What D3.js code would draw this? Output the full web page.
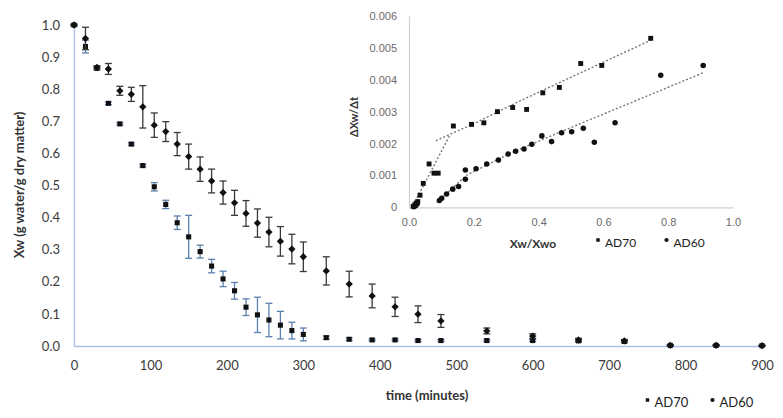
<!DOCTYPE html>
<html><head><meta charset="utf-8">
<script src="https://cdn.jsdelivr.net/npm/d3@7"></script>
<style>
html,body{margin:0;padding:0;background:#fff;}
svg{display:block;font-family:Lato,"Open Sans",sans-serif;}
</style></head>
<body>
<svg id="c" width="783" height="418"></svg>
<script>
// ---------- main chart data ----------
const times = [0,15,30,45,60,75,90,105,120,135,150,165,180,195,210,225,240,255,270,285,300,330,360,390,420,450,480,540,600,660,720,780,840,900];
const ad70 = [1.0,0.933,0.865,0.756,0.692,0.629,0.562,0.496,0.441,0.384,0.340,0.294,0.249,0.209,0.172,0.121,0.097,0.081,0.065,0.048,0.036,0.026,0.021,0.019,0.019,0.017,0.017,0.017,0.017,0.016,0.014,0.002,0.002,0.001];
const ad70Err = [0.002,0.02,0.005,0.004,0.004,0.004,0.004,0.013,0.013,0.021,0.067,0.02,0.021,0.024,0.026,0.026,0.055,0.052,0.043,0.026,0.02,0.005,0.004,0.003,0.003,0.003,0.003,0.003,0.003,0.004,0.004,0.002,0.002,0.001];
const ad60 = [1.0,0.958,0.868,0.863,0.795,0.784,0.745,0.688,0.668,0.629,0.590,0.551,0.514,0.478,0.446,0.413,0.383,0.355,0.326,0.302,0.278,0.234,0.193,0.156,0.122,0.099,0.078,0.047,0.031,0.019,0.016,0.002,0.002,0.001];
const ad60Err = [0.003,0.035,0.005,0.017,0.014,0.022,0.066,0.038,0.031,0.036,0.039,0.038,0.037,0.036,0.039,0.040,0.044,0.046,0.046,0.046,0.046,0.044,0.040,0.037,0.030,0.026,0.020,0.009,0.007,0.005,0.004,0.002,0.002,0.001];
const mainXTicks = [0,100,200,300,400,500,600,700,800,900];
const mainYTicks = [0,0.1,0.2,0.3,0.4,0.5,0.6,0.7,0.8,0.9,1.0];
const seriesNames = ["AD70","AD60"];

// ---------- inset data (Xw/Xwo vs dXw/dt) ----------
const insetAd70X = [0.013,0.018,0.022,0.027,0.034,0.044,0.062,0.077,0.090,0.137,0.193,0.231,0.273,0.320,0.363,0.413,0.464,0.530,0.595,0.746];
const insetAd70Y = [0.00003,0.00008,0.00013,0.00018,0.00038,0.00075,0.00136,0.00107,0.00107,0.00255,0.00260,0.00265,0.00300,0.00313,0.00307,0.00359,0.00376,0.00451,0.00445,0.00530];
const insetAd60X = [0.015,0.020,0.025,0.094,0.101,0.116,0.135,0.153,0.174,0.174,0.207,0.240,0.276,0.306,0.329,0.355,0.379,0.410,0.440,0.471,0.502,0.538,0.572,0.636,0.777,0.908];
const insetAd60Y = [0.00002,0.00005,0.00010,0.00021,0.00028,0.00042,0.00057,0.00065,0.00088,0.00117,0.00121,0.00136,0.00148,0.00167,0.00176,0.00183,0.00198,0.00224,0.00206,0.00234,0.00237,0.00248,0.00204,0.00265,0.00414,0.00445];
// trend lines (dotted)
const trend70aX = [0.013,0.1265];
const trend70aY = [0.00007,0.00227];
const trend70bX = [0.083,0.204,0.343,0.746];
const trend70bY = [0.00209,0.00264,0.00334,0.00524];
const trend60X = [0.085,0.178,0.312,0.466,0.908];
const trend60Y = [0.00015,0.00101,0.00169,0.00236,0.00422];
const insetXTicks = [0,0.2,0.4,0.6,0.8,1.0];
const insetXLabels = ["0.0","0.2","0.4","0.6","0.8","1.0"];
const insetYTicks = [0,0.001,0.002,0.003,0.004,0.005,0.006];
const insetYLabels = ["0","0.001","0.002","0.003","0.004","0.005","0.006"];

const svg = d3.select("#c");

// ---------- main chart ----------
const x = d3.scaleLinear().domain([0,900]).range([74,762]);
const y = d3.scaleLinear().domain([0,1]).range([346,25]);

const gy = svg.append("g").attr("transform","translate(74,0)")
  .call(d3.axisLeft(y).tickValues(mainYTicks).tickFormat(d3.format(".1f")).tickSize(0).tickPadding(14));
gy.select(".domain").attr("stroke","#a9c2e6").attr("stroke-width",1.3);
gy.selectAll("text").attr("font-size",13).attr("fill","#3a3a3a").attr("font-family","Lato,sans-serif");

const gx = svg.append("g").attr("transform","translate(0,346)")
  .call(d3.axisBottom(x).tickValues(mainXTicks).tickFormat(d3.format("d")).tickSize(0).tickPadding(15));
gx.select(".domain").attr("stroke","#a9c2e6").attr("stroke-width",1.3);
gx.selectAll("text").attr("font-size",13).attr("fill","#3a3a3a").attr("font-family","Lato,sans-serif");

svg.append("text").attr("transform","translate(19,185) rotate(-90)")
  .attr("text-anchor","middle").attr("dominant-baseline","central")
  .attr("font-size",13).attr("font-weight","bold").attr("fill","#333")
  .text("Xw (g water/g dry matter)");
svg.append("text").attr("x",427).attr("y",395)
  .attr("text-anchor","middle").attr("dominant-baseline","central")
  .attr("font-size",13).attr("font-weight","bold").attr("fill","#333")
  .text("time (minutes)");

const diamondType = d3.symbolDiamond2 || d3.symbolCircle;

function drawSeries(vals, errs, barColor, symType, symSize){
  const g = svg.append("g");
  const d = times.map((t,i)=>({t, v:vals[i], e:errs[i]}));
  const eb = g.selectAll("g.eb").data(d).join("g").attr("class","eb")
    .attr("stroke",barColor).attr("stroke-width",1.3).attr("fill","none");
  eb.append("line").attr("x1",p=>x(p.t)).attr("x2",p=>x(p.t)).attr("y1",p=>y(p.v+p.e)).attr("y2",p=>y(p.v-p.e));
  eb.append("line").attr("x1",p=>x(p.t)-3.5).attr("x2",p=>x(p.t)+3.5).attr("y1",p=>y(p.v+p.e)).attr("y2",p=>y(p.v+p.e));
  eb.append("line").attr("x1",p=>x(p.t)-3.5).attr("x2",p=>x(p.t)+3.5).attr("y1",p=>y(p.v-p.e)).attr("y2",p=>y(p.v-p.e));
  g.selectAll("path.m").data(d).join("path").attr("class","m")
    .attr("d",d3.symbol().type(symType).size(symSize))
    .attr("transform",p=>`translate(${x(p.t)},${y(p.v)})`)
    .attr("fill","#111");
}
drawSeries(ad70, ad70Err, "#5b7fae", d3.symbolSquare, 26);
drawSeries(ad60, ad60Err, "#3a3a3a", diamondType, 34);

// bottom legend
const leg = svg.append("g").attr("font-size",13).attr("fill","#222");
[[647.5,d3.symbolSquare,12],[712.5,d3.symbolCircle,14]].forEach((s,i)=>{
  leg.append("path").attr("d",d3.symbol().type(s[1]).size(s[2])).attr("transform",`translate(${s[0]},400)`).attr("fill","#111");
  leg.append("text").attr("x",s[0]+7).attr("y",402).attr("dominant-baseline","central").text(seriesNames[i]);
});

// ---------- inset ----------
const ix = d3.scaleLinear().domain([0,1]).range([409,733]);
const iy = d3.scaleLinear().domain([0,0.006]).range([207.3,16]);

const igy = svg.append("g").attr("transform","translate(409,0)")
  .call(d3.axisLeft(iy).tickValues(insetYTicks).tickFormat((d,i)=>insetYLabels[i]).tickSize(0).tickPadding(12));
igy.select(".domain").attr("stroke","#d0d0d0").attr("stroke-width",1.2);
igy.selectAll("text").attr("font-size",11).attr("fill","#6a6a6a");

const igx = svg.append("g").attr("transform","translate(0,207.3)")
  .call(d3.axisBottom(ix).tickValues(insetXTicks).tickFormat((d,i)=>insetXLabels[i]).tickSize(0).tickPadding(11));
igx.select(".domain").attr("stroke","#d0d0d0").attr("stroke-width",1.2);
igx.selectAll("text").attr("font-size",11).attr("fill","#6a6a6a");

svg.append("text").attr("transform","translate(353,117) rotate(-90)")
  .attr("text-anchor","middle").attr("dominant-baseline","central")
  .attr("font-size",11).attr("font-weight","bold").attr("fill","#333").text("ΔXw/Δt");
svg.append("text").attr("x",533).attr("y",243)
  .attr("text-anchor","middle").attr("dominant-baseline","central")
  .attr("font-size",12).attr("font-weight","bold").attr("fill","#333").text("Xw/Xwo");

const line = d3.line().x(p=>ix(p[0])).y(p=>iy(p[1]));
[[trend70aX,trend70aY],[trend70bX,trend70bY],[trend60X,trend60Y]].forEach(tr=>{
  svg.append("path").attr("d",line(tr[0].map((v,i)=>[v,tr[1][i]])))
    .attr("fill","none").attr("stroke","#777").attr("stroke-width",1.4).attr("stroke-dasharray","2,2");
});
svg.append("g").selectAll("path").data(insetAd70X.map((v,i)=>[v,insetAd70Y[i]])).join("path")
  .attr("d",d3.symbol().type(d3.symbolSquare).size(24))
  .attr("transform",p=>`translate(${ix(p[0])},${iy(p[1])})`).attr("fill","#111");
svg.append("g").selectAll("path").data(insetAd60X.map((v,i)=>[v,insetAd60Y[i]])).join("path")
  .attr("d",d3.symbol().type(d3.symbolCircle).size(24))
  .attr("transform",p=>`translate(${ix(p[0])},${iy(p[1])})`).attr("fill","#111");

const ileg = svg.append("g").attr("font-size",12).attr("fill","#222");
[[598,d3.symbolSquare,12],[666.5,d3.symbolCircle,14]].forEach((s,i)=>{
  ileg.append("path").attr("d",d3.symbol().type(s[1]).size(s[2])).attr("transform",`translate(${s[0]},240)`).attr("fill","#111");
  ileg.append("text").attr("x",s[0]+7).attr("y",242).attr("dominant-baseline","central").text(seriesNames[i]);
});
</script>
</body></html>
